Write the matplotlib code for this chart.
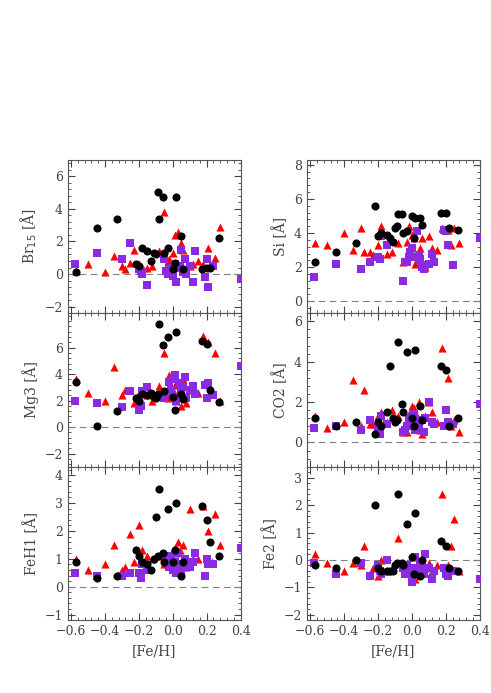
import matplotlib
matplotlib.use("Agg")
import matplotlib.pyplot as plt
from matplotlib.ticker import AutoMinorLocator

x_black = [-0.57,-0.45,-0.33,-0.22,-0.18,-0.15,-0.13,-0.11,-0.10,-0.09,-0.08,-0.06,-0.03,0.00,0.02,0.05,0.06,0.17,0.20,0.22,0.27,-0.20,0.01,-0.05]
x_red = [-0.57,-0.50,-0.40,-0.35,-0.30,-0.28,-0.25,-0.23,-0.20,-0.18,-0.12,-0.08,-0.05,-0.02,0.00,0.01,0.02,0.03,0.05,0.06,0.08,0.10,0.12,0.18,0.21,0.23,0.25,0.28,-0.03,0.04,-0.15,0.15]
x_purple = [-0.58,-0.45,-0.30,-0.25,-0.20,-0.19,-0.18,-0.15,-0.05,-0.03,-0.02,-0.01,0.00,0.01,0.02,0.03,0.04,0.05,0.07,0.08,0.10,0.12,0.13,0.19,0.20,0.21,0.24,0.40,-0.04,0.06]

br15_black = [0.15,2.8,3.4,0.6,1.6,1.4,0.8,1.3,1.25,5.0,3.4,4.7,1.6,0.3,4.7,2.3,0.3,0.3,0.4,0.4,2.2,0.5,0.7,1.3]
br15_red = [0.2,0.6,0.1,1.1,0.5,0.3,0.7,1.5,0.6,0.4,0.5,1.4,3.8,0.9,1.3,2.4,0.6,2.6,1.9,1.5,0.3,0.5,0.6,0.6,1.6,0.6,1.0,2.9,0.8,0.5,0.4,0.8]
br15_purple = [0.6,1.3,0.9,1.9,0.3,0.2,0.0,-0.7,0.9,0.0,0.3,0.4,-0.1,0.6,-0.5,0.4,0.5,1.5,0.9,0.0,0.5,-0.5,1.4,-0.2,0.9,-0.8,0.5,-0.3,0.2,0.1]

si_black = [2.3,2.9,3.4,5.6,4.0,3.9,3.7,3.5,4.3,4.4,5.1,5.1,4.1,5.0,4.9,4.9,4.5,5.2,5.2,4.3,4.2,3.8,3.7,4.0]
si_red = [3.4,3.3,4.0,3.0,4.3,2.9,2.9,2.7,3.3,4.4,2.9,3.4,2.3,4.4,3.9,3.7,2.2,2.4,3.1,3.7,2.0,3.8,3.1,4.3,4.2,3.3,4.3,3.4,3.5,2.6,2.8,3.0]
si_purple = [1.4,2.2,1.9,2.3,2.6,2.5,3.8,3.3,1.2,2.3,2.6,2.9,3.1,2.6,2.6,4.1,2.7,2.5,1.9,2.1,2.2,2.8,2.3,4.2,4.1,3.3,2.1,3.7,2.3,2.0]

mg3_black = [3.4,0.1,1.2,2.2,2.5,2.4,2.6,2.3,2.2,2.5,7.8,6.2,6.8,2.3,7.2,2.5,2.1,6.5,6.3,2.8,1.9,2.0,1.3,2.7]
mg3_red = [3.6,2.6,2.0,4.5,2.4,2.8,2.8,1.8,2.6,2.6,2.0,3.1,5.6,3.9,2.8,3.2,2.0,2.4,1.6,3.6,1.8,2.8,3.2,6.9,6.4,2.5,5.6,2.0,2.2,2.6,2.4,2.6]
mg3_purple = [2.0,1.8,1.5,2.7,1.3,1.6,2.7,3.0,2.2,2.6,3.4,2.8,3.6,3.9,2.0,2.3,3.3,2.7,3.8,2.2,2.8,3.1,2.5,3.2,2.2,3.3,2.4,4.6,2.6,3.0]

co2_black = [1.2,0.8,1.0,0.4,0.8,1.5,3.8,1.2,1.0,1.1,5.0,1.9,4.5,1.2,4.6,1.8,1.1,3.8,3.6,0.8,1.2,1.0,0.8,1.5]
co2_red = [1.3,0.7,1.0,3.1,0.8,2.6,0.9,0.9,1.3,1.5,1.6,1.3,0.5,1.4,1.8,1.7,1.1,1.3,0.6,0.4,1.3,2.0,1.5,4.7,3.2,0.8,1.1,0.5,0.5,2.0,1.0,1.0]
co2_purple = [0.7,0.8,0.6,1.1,0.7,0.4,1.3,0.9,0.5,0.8,1.2,1.0,0.9,1.4,0.6,1.0,0.8,1.1,0.5,1.2,2.0,1.0,0.9,0.8,1.6,1.0,0.9,1.9,0.6,1.1]

feh1_black = [0.9,0.3,0.4,1.3,0.9,0.8,0.6,1.0,2.5,1.1,3.5,1.2,2.8,0.9,3.0,0.4,0.9,2.9,2.4,1.6,1.1,1.1,1.3,0.9]
feh1_red = [1.0,0.6,0.8,1.5,0.6,0.7,1.9,0.9,2.2,1.3,1.0,1.1,0.8,0.9,1.3,1.4,1.2,1.6,0.6,1.5,0.7,2.8,1.0,2.9,2.0,0.9,2.6,1.5,0.8,1.3,1.1,1.0]
feh1_purple = [0.5,0.4,0.4,0.5,0.5,0.3,0.8,0.6,1.1,0.9,0.7,1.1,0.6,0.9,0.5,1.2,0.8,0.6,1.0,0.8,0.7,0.9,1.2,0.4,1.0,0.8,0.8,1.4,0.9,0.7]

fe2_black = [-0.2,-0.3,0.0,2.0,-0.4,-0.4,-0.4,-0.4,-0.2,-0.1,2.4,-0.1,1.3,0.1,1.7,-0.6,0.0,0.7,0.5,-0.3,-0.4,-0.3,-0.5,-0.2]
fe2_red = [0.2,-0.1,-0.4,-0.1,-0.2,0.5,-0.5,-0.3,-0.6,0.0,-0.3,0.8,-0.2,-0.4,-0.6,0.1,-0.7,-0.2,-0.5,0.0,-0.3,-0.1,-0.4,2.4,-0.2,0.5,1.5,-0.4,-0.1,-0.3,-0.4,-0.2]
fe2_purple = [-0.1,-0.5,-0.1,-0.6,-0.2,-0.4,-0.5,0.0,-0.3,-0.2,-0.5,-0.4,-0.8,-0.3,0.1,-0.4,-0.6,-0.2,-0.5,0.2,-0.3,-0.7,-0.4,-0.3,-0.5,-0.6,-0.4,-0.7,-0.5,-0.3]

panels = [
    ("Br$_{15}$ [Å]", br15_black, br15_red, br15_purple, (-2.4, 7.0), [-2,0,2,4,6]),
    ("Si [Å]", si_black, si_red, si_purple, (-0.7, 8.3), [0,2,4,6,8]),
    ("Mg3 [Å]", mg3_black, mg3_red, mg3_purple, (-3.0, 8.6), [-2,0,2,4,6]),
    ("CO2 [Å]", co2_black, co2_red, co2_purple, (-1.2, 6.4), [0,2,4,6]),
    ("FeH1 [Å]", feh1_black, feh1_red, feh1_purple, (-1.2, 4.3), [-1,0,1,2,3,4]),
    ("Fe2 [Å]", fe2_black, fe2_red, fe2_purple, (-2.2, 3.4), [-2,-1,0,1,2,3]),
]

plt.rcParams['font.family'] = ['DejaVu Serif']
fig = plt.figure(figsize=(4.91, 6.93), dpi=100)
lefts = [0.138, 0.625]
w = 0.352
h = 0.2215
bottoms = [0.105 + 2*h, 0.105 + h, 0.105]
for i, (lab, yb, yr, yp, ylim, yt) in enumerate(panels):
    row, col = divmod(i, 2)
    ax = fig.add_axes([lefts[col], bottoms[row], w, h])
    ax.axhline(0, color='gray', ls=(0, (6, 4)), lw=0.8)
    ax.scatter(x_red, yr, marker='^', s=34, color='red', linewidths=0, zorder=3)
    ax.scatter(x_purple, yp, marker='s', s=30, color='#8a2be2', linewidths=0, zorder=3)
    ax.scatter(x_black, yb, marker='o', s=34, color='black', linewidths=0, zorder=4)
    ax.set_xlim(-0.62, 0.4)
    ax.set_ylim(*ylim)
    ax.set_yticks(yt)
    ax.set_xticks([-0.6,-0.4,-0.2,0.0,0.2,0.4])
    ax.xaxis.set_minor_locator(AutoMinorLocator(5))
    ax.yaxis.set_minor_locator(AutoMinorLocator(5))
    ax.tick_params(which='both', direction='in', top=True, right=True, labelsize=9, colors='#444444')
    ax.tick_params(which='major', length=5)
    ax.tick_params(which='minor', length=2.5)
    for s in ax.spines.values():
        s.set_color('#555555')
        s.set_linewidth(0.8)
    ax.set_ylabel(lab, fontsize=10, color='#444444')
    if row < 2:
        ax.set_xticklabels([])
    else:
        ax.set_xlabel("[Fe/H]", fontsize=10, color='#444444')
fig.savefig("out.png", dpi=100)
